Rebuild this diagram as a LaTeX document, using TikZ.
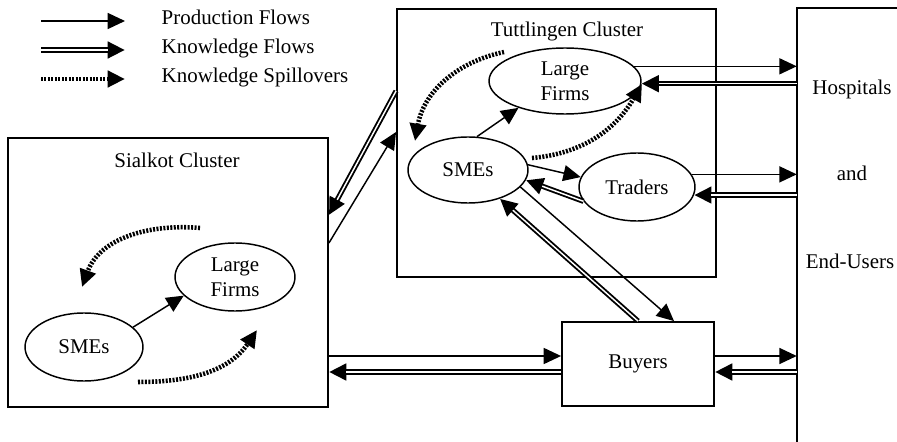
\documentclass[tikz,border=0pt]{standalone}
\usepackage{fontspec}
\setmainfont{Liberation Serif}
\usetikzlibrary{arrows.meta,shapes.geometric,calc}
\begin{document}
\begin{tikzpicture}[x=0.75pt,y=-0.75pt,font=\fontsize{15.7}{18.8}\selectfont,
    >={Triangle[length=13pt,width=12pt]},
    firm/.style={draw,ellipse,line width=1.1pt,inner sep=0pt,align=center},
    box/.style={draw,rectangle,line width=1.4pt,inner sep=0pt},
    prod/.style={->,line width=1.1pt},
    know/.style={->,line width=3.9pt,postaction={draw=white,-,line width=1.1pt,shorten >=13pt}},
    spill/.style={->,line width=3.4pt,dash pattern=on 1.5pt off 1.1pt}]
\useasboundingbox (0,0) rectangle (897,442);

% legend
\node[anchor=base west](lp) at (157,25){Production Flows};
\node[anchor=base west](lk) at (157,54){Knowledge Flows};
\node[anchor=base west](ls) at (157,83){Knowledge Spillovers};
\draw[prod] ($(lp.base west)+(-116,-4)$) -- ($(lp.base west)+(-32,-4)$);
\draw[know] ($(lk.base west)+(-116,-4)$) -- ($(lk.base west)+(-32,-4)$);
\draw[spill] ($(ls.base west)+(-116,-4)$) -- ($(ls.base west)+(-32,-4)$);

% clusters
\node[box,minimum width=239.25pt,minimum height=201pt](tutt) at (556.5,143){};
\node(ttl) at (567,31){Tuttlingen Cluster};
\node[box,minimum width=240pt,minimum height=201.75pt](sial) at (168,272.5){};
\node(stl) at (177,160){Sialkot Cluster};
\node[box,minimum width=114pt,minimum height=63pt](buy) at (638,364){Buyers};
\node[inner sep=0pt,minimum width=75pt,minimum height=325.5pt](hosp) at (847,225){};
\draw[line width=1.4pt] (hosp.north east) -- (hosp.north west) -- (hosp.south west);
\node(h1) at (852,89){Hospitals};
\node(h2) at (852,173){and};
\node(h3) at (850,261){End-Users};

\node[firm,minimum width=114pt,minimum height=49.5pt](tLarge) at (565,81){Large\\Firms};
\node[firm,minimum width=90pt,minimum height=49.5pt](tSME) at (468,170){SMEs};
\node[firm,minimum width=87pt,minimum height=51pt](trd) at (637,187){Traders};
\node[firm,minimum width=88.5pt,minimum height=51pt](sSME) at (84,347){SMEs};
\node[firm,minimum width=90pt,minimum height=51pt](sLarge) at (235,277){Large\\Firms};

% flows inside the clusters
\draw[prod] (tSME.75) -- (tLarge.210);
\draw[prod] (tSME.5) -- (trd.170);
\draw[know] (trd.195) -- (tSME.350);
\draw[prod] (tSME.342) -- (buy.50);
\draw[know] (buy.north) -- (tSME.318);
\draw[prod] (sSME.22) -- (sLarge.200);

% spillovers
\coordinate(ta) at (504,52);
\coordinate(tb) at (415,141);
\coordinate(tc) at (532,158);
\coordinate(td) at (642,84);
\coordinate(sa) at (200,228);
\coordinate(sb) at (82,287);
\coordinate(sc) at (138,382);
\coordinate(sd) at (257,330);
\draw[spill] (ta) to[out=192,in=80] (tb);
\draw[spill] (tc) to[out=5,in=240] (td);
\draw[spill] (sa) to[out=175,in=70] (sb);
\draw[spill] (sc) to[out=0,in=236] (sd);

% flows between the clusters, buyers and end-users
\draw[know] (tutt.west |- 0,91) -- (sial.east |- 0,215);
\draw[prod] (sial.east |- 0,243) -- (tutt.west |- 0,132);
\draw[prod] (sial.east |- 0,356) -- (buy.west |- 0,356);
\draw[know] (buy.west |- 0,372) -- (sial.east |- 0,372);
\draw[prod] (tLarge.12) -- (tLarge.12 -| hosp.west);
\draw[know] (hosp.west |- tLarge.358) -- (tLarge.358);
\draw[prod] (trd.13) -- (trd.13 -| hosp.west);
\draw[know] (hosp.west |- trd.352) -- (trd.352);
\draw[prod] (buy.east |- 0,356) -- (hosp.west |- 0,356);
\draw[know] (hosp.west |- 0,372) -- (buy.east |- 0,372);
\end{tikzpicture}
\end{document}
